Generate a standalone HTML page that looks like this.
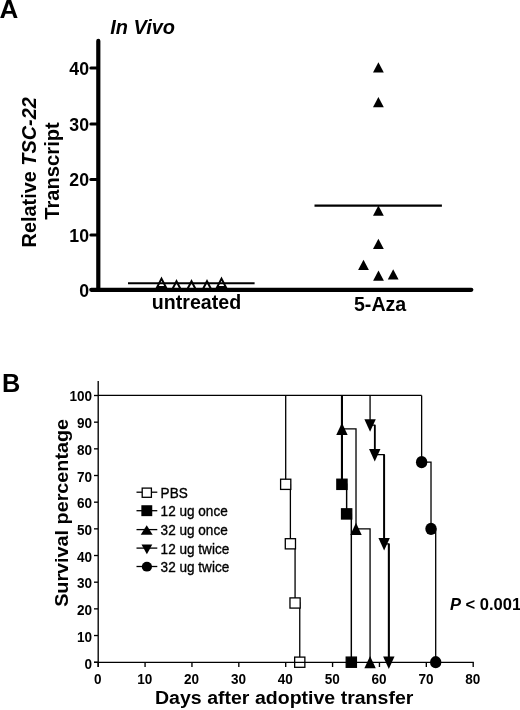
<!DOCTYPE html>
<html><head><meta charset="utf-8"><title>Figure</title>
<style>
html,body{margin:0;padding:0;background:#fff;}
svg{display:block;}
text{font-family:"Liberation Sans",sans-serif;fill:#000;}
.b{font-weight:bold;}
.i{font-style:italic;}
</style></head><body>
<svg width="520" height="710" viewBox="0 0 520 710">
<rect width="520" height="710" fill="#fff"/>

<text class="b" x="-0.5" y="18.3" font-size="26">A</text>
<text class="b i" transform="translate(110.3,33.9) scale(1.035,1)" font-size="19.3">In Vivo</text>
<line x1="90.9" y1="68" x2="97" y2="68" stroke="#000" stroke-width="3" stroke-linecap="round"/>
<text class="b" x="89" y="74.60" font-size="17.7" text-anchor="end">40</text>
<line x1="90.9" y1="123.9" x2="97" y2="123.9" stroke="#000" stroke-width="3" stroke-linecap="round"/>
<text class="b" x="89" y="130.50" font-size="17.7" text-anchor="end">30</text>
<line x1="90.9" y1="179.6" x2="97" y2="179.6" stroke="#000" stroke-width="3" stroke-linecap="round"/>
<text class="b" x="89" y="186.20" font-size="17.7" text-anchor="end">20</text>
<line x1="90.9" y1="235.1" x2="97" y2="235.1" stroke="#000" stroke-width="3" stroke-linecap="round"/>
<text class="b" x="89" y="241.70" font-size="17.7" text-anchor="end">10</text>
<text class="b" x="89" y="296.60" font-size="17.7" text-anchor="end">0</text>
<text class="b" font-size="19.9" text-anchor="middle" transform="translate(35.7,172.3) rotate(-90)">Relative <tspan class="i">TSC-22</tspan></text>
<text class="b" font-size="20.2" text-anchor="middle" transform="translate(58.7,171) rotate(-90)">Transcript</text>
<text class="b" font-size="19.6" text-anchor="middle" x="196.5" y="309.2">untreated</text>
<text class="b" font-size="19.6" text-anchor="middle" x="380.1" y="311.2">5-Aza</text>
<polygon points="161.5,276.40 167.40,288.00 155.60,288.00" fill="#000"/><polygon points="161.5,280.81 164.14,286.00 158.86,286.00" fill="#fff"/>
<polygon points="176.5,279.00 182.40,290.60 170.60,290.60" fill="#000"/><polygon points="176.5,283.41 179.14,288.60 173.86,288.60" fill="#fff"/>
<polygon points="191.5,279.00 197.40,290.60 185.60,290.60" fill="#000"/><polygon points="191.5,283.41 194.14,288.60 188.86,288.60" fill="#fff"/>
<polygon points="207,279.00 212.90,290.60 201.10,290.60" fill="#000"/><polygon points="207,283.41 209.64,288.60 204.36,288.60" fill="#fff"/>
<polygon points="221.5,276.40 227.40,288.00 215.60,288.00" fill="#000"/><polygon points="221.5,280.81 224.14,286.00 218.86,286.00" fill="#fff"/>
<line x1="128" y1="283.3" x2="254.6" y2="283.3" stroke="#000" stroke-width="2"/>
<line x1="314.5" y1="205.6" x2="441.9" y2="205.6" stroke="#000" stroke-width="2.2"/>
<polygon points="378.4,62.2 383.79999999999995,72.5 373.0,72.5" fill="#000"/>
<polygon points="378.4,97 383.79999999999995,107.3 373.0,107.3" fill="#000"/>
<polygon points="378.4,205.4 383.79999999999995,215.70000000000002 373.0,215.70000000000002" fill="#000"/>
<polygon points="378.4,238.7 383.79999999999995,249.0 373.0,249.0" fill="#000"/>
<polygon points="363.5,259.7 368.9,270.0 358.1,270.0" fill="#000"/>
<polygon points="378.5,270.4 383.9,280.7 373.1,280.7" fill="#000"/>
<polygon points="393.2,269.3 398.59999999999997,279.6 387.8,279.6" fill="#000"/>
<line x1="98.3" y1="40.9" x2="98.3" y2="289.85" stroke="#000" stroke-width="4.2" stroke-linecap="round"/>
<line x1="91.3" y1="289.85" x2="471.3" y2="289.85" stroke="#000" stroke-width="4.2" stroke-linecap="round"/>
<text class="b" x="2.1" y="391.5" font-size="25.3">B</text>
<line x1="94" y1="662.20" x2="98" y2="662.20" stroke="#000" stroke-width="1.35"/>
<text class="b" transform="translate(92,668.50) scale(0.88,1)" font-size="15.4" text-anchor="end">0</text>
<line x1="94" y1="635.53" x2="98" y2="635.53" stroke="#000" stroke-width="1.35"/>
<text class="b" transform="translate(92,641.83) scale(0.88,1)" font-size="15.4" text-anchor="end">10</text>
<line x1="94" y1="608.86" x2="98" y2="608.86" stroke="#000" stroke-width="1.35"/>
<text class="b" transform="translate(92,615.16) scale(0.88,1)" font-size="15.4" text-anchor="end">20</text>
<line x1="94" y1="582.19" x2="98" y2="582.19" stroke="#000" stroke-width="1.35"/>
<text class="b" transform="translate(92,588.49) scale(0.88,1)" font-size="15.4" text-anchor="end">30</text>
<line x1="94" y1="555.52" x2="98" y2="555.52" stroke="#000" stroke-width="1.35"/>
<text class="b" transform="translate(92,561.82) scale(0.88,1)" font-size="15.4" text-anchor="end">40</text>
<line x1="94" y1="528.85" x2="98" y2="528.85" stroke="#000" stroke-width="1.35"/>
<text class="b" transform="translate(92,535.15) scale(0.88,1)" font-size="15.4" text-anchor="end">50</text>
<line x1="94" y1="502.18" x2="98" y2="502.18" stroke="#000" stroke-width="1.35"/>
<text class="b" transform="translate(92,508.48) scale(0.88,1)" font-size="15.4" text-anchor="end">60</text>
<line x1="94" y1="475.51" x2="98" y2="475.51" stroke="#000" stroke-width="1.35"/>
<text class="b" transform="translate(92,481.81) scale(0.88,1)" font-size="15.4" text-anchor="end">70</text>
<line x1="94" y1="448.84" x2="98" y2="448.84" stroke="#000" stroke-width="1.35"/>
<text class="b" transform="translate(92,455.14) scale(0.88,1)" font-size="15.4" text-anchor="end">80</text>
<line x1="94" y1="422.17" x2="98" y2="422.17" stroke="#000" stroke-width="1.35"/>
<text class="b" transform="translate(92,428.47) scale(0.88,1)" font-size="15.4" text-anchor="end">90</text>
<line x1="94" y1="395.50" x2="98" y2="395.50" stroke="#000" stroke-width="1.35"/>
<text class="b" transform="translate(92,401.00) scale(0.88,1)" font-size="15.4" text-anchor="end">100</text>
<line x1="98.20" y1="662.3" x2="98.20" y2="667" stroke="#000" stroke-width="1.35"/>
<text class="b" transform="translate(97.80,683.5) scale(0.88,1)" font-size="15.4" text-anchor="middle">0</text>
<line x1="145.07" y1="662.3" x2="145.07" y2="667" stroke="#000" stroke-width="1.35"/>
<text class="b" transform="translate(144.67,683.5) scale(0.88,1)" font-size="15.4" text-anchor="middle">10</text>
<line x1="191.95" y1="662.3" x2="191.95" y2="667" stroke="#000" stroke-width="1.35"/>
<text class="b" transform="translate(191.55,683.5) scale(0.88,1)" font-size="15.4" text-anchor="middle">20</text>
<line x1="238.82" y1="662.3" x2="238.82" y2="667" stroke="#000" stroke-width="1.35"/>
<text class="b" transform="translate(238.42,683.5) scale(0.88,1)" font-size="15.4" text-anchor="middle">30</text>
<line x1="285.70" y1="662.3" x2="285.70" y2="667" stroke="#000" stroke-width="1.35"/>
<text class="b" transform="translate(285.30,683.5) scale(0.88,1)" font-size="15.4" text-anchor="middle">40</text>
<line x1="332.57" y1="662.3" x2="332.57" y2="667" stroke="#000" stroke-width="1.35"/>
<text class="b" transform="translate(332.18,683.5) scale(0.88,1)" font-size="15.4" text-anchor="middle">50</text>
<line x1="379.45" y1="662.3" x2="379.45" y2="667" stroke="#000" stroke-width="1.35"/>
<text class="b" transform="translate(379.05,683.5) scale(0.88,1)" font-size="15.4" text-anchor="middle">60</text>
<line x1="426.32" y1="662.3" x2="426.32" y2="667" stroke="#000" stroke-width="1.35"/>
<text class="b" transform="translate(425.93,683.5) scale(0.88,1)" font-size="15.4" text-anchor="middle">70</text>
<line x1="473.20" y1="662.3" x2="473.20" y2="667" stroke="#000" stroke-width="1.35"/>
<text class="b" transform="translate(472.80,683.5) scale(0.88,1)" font-size="15.4" text-anchor="middle">80</text>
<text class="b" font-size="18.4" text-anchor="middle" transform="translate(67.7,512.9) rotate(-90) scale(1.075,1)">Survival percentage</text>
<text class="b" font-size="18.5" text-anchor="middle" transform="translate(284.2,703.9) scale(1.057,1)">Days after adoptive transfer</text>
<text class="b" font-size="16" transform="translate(449.9,609.7) scale(1.035,1)"><tspan class="i">P</tspan> &lt; 0.001</text>
<path d="M98.00,395.30 L421.64,395.30" fill="none" stroke="#000" stroke-width="1.35"/>
<path d="M285.70,395.50 L285.70,484.31 L290.39,484.31 L290.39,543.79 L295.07,543.79 L295.07,602.99 L299.76,602.99 L299.76,662.20" fill="none" stroke="#000" stroke-width="1.3"/>
<rect x="280.60" y="479.21" width="10.2" height="10.2" fill="#fff" stroke="#000" stroke-width="1.3"/>
<rect x="285.29" y="538.69" width="10.2" height="10.2" fill="#fff" stroke="#000" stroke-width="1.3"/>
<rect x="289.97" y="597.89" width="10.2" height="10.2" fill="#fff" stroke="#000" stroke-width="1.3"/>
<rect x="294.66" y="657.10" width="10.2" height="10.2" fill="#fff" stroke="#000" stroke-width="1.3"/>
<path d="M341.95,395.50 L341.95,484.31 L346.64,484.31 L346.64,513.91 L351.32,513.91 L351.32,662.20" fill="none" stroke="#000" stroke-width="1.45"/>
<path d="M341.95,395.50 L341.95,484.31" fill="none" stroke="#000" stroke-width="2.1"/>
<rect x="336.85" y="479.21" width="10.2" height="10.2" fill="#000" stroke="#000" stroke-width="1.3"/>
<rect x="341.54" y="508.81" width="10.2" height="10.2" fill="#000" stroke="#000" stroke-width="1.3"/>
<rect x="346.22" y="657.10" width="10.2" height="10.2" fill="#000" stroke="#000" stroke-width="1.3"/>
<path d="M341.95,395.50 L341.95,428.84 L356.01,428.84 L356.01,528.85 L370.07,528.85 L370.07,662.20" fill="none" stroke="#000" stroke-width="1.3"/>
<polygon points="341.95,422.74 347.65,434.94 336.25,434.94" fill="#000"/>
<polygon points="356.01,522.75 361.71,534.95 350.31,534.95" fill="#000"/>
<polygon points="370.07,656.10 375.77,668.30 364.38,668.30" fill="#000"/>
<path d="M370.07,395.50 L370.07,425.10 L374.76,425.10 L374.76,454.71 L384.14,454.71 L384.14,543.79 L388.82,543.79 L388.82,662.20" fill="none" stroke="#000" stroke-width="1.3"/>
<path d="M388.82,543.79 L388.82,662.20" fill="none" stroke="#000" stroke-width="2.0"/>
<path d="M374.76,425.10 L374.76,454.71" fill="none" stroke="#000" stroke-width="1.7"/>
<path d="M384.14,454.71 L384.14,543.79" fill="none" stroke="#000" stroke-width="1.9"/>
<polygon points="370.07,431.80 375.77,419.30 364.38,419.30" fill="#000"/>
<polygon points="374.76,461.41 380.46,448.91 369.06,448.91" fill="#000"/>
<polygon points="384.14,550.49 389.84,537.99 378.44,537.99" fill="#000"/>
<polygon points="388.82,668.90 394.52,656.40 383.12,656.40" fill="#000"/>
<path d="M421.64,395.50 L421.64,462.18 L431.01,462.18 L431.01,528.85 L435.70,528.85 L435.70,662.20" fill="none" stroke="#000" stroke-width="1.3"/>
<ellipse cx="421.64" cy="462.18" rx="5.7" ry="6.1" fill="#000"/>
<ellipse cx="431.01" cy="528.85" rx="5.7" ry="6.1" fill="#000"/>
<ellipse cx="435.70" cy="662.20" rx="5.7" ry="6.1" fill="#000"/>
<line x1="98.2" y1="381" x2="98.2" y2="667" stroke="#000" stroke-width="1.35"/>
<line x1="94" y1="662.3" x2="473.8" y2="662.3" stroke="#000" stroke-width="1.35"/>
<line x1="136.5" y1="492.2" x2="157.3" y2="492.2" stroke="#000" stroke-width="1.3"/>
<rect x="142.20" y="488.10" width="9.2" height="9.2" fill="#fff" stroke="#000" stroke-width="1.3"/>
<text transform="translate(160.6,497.90) scale(0.905,1)" font-size="15" stroke="#000" stroke-width="0.35">PBS</text>
<line x1="136.5" y1="510.7" x2="157.3" y2="510.7" stroke="#000" stroke-width="1.3"/>
<rect x="142.00" y="505.90" width="9.6" height="9.6" fill="#000" stroke="#000" stroke-width="1.3"/>
<text transform="translate(160.6,516.40) scale(0.905,1)" font-size="15" stroke="#000" stroke-width="0.35">12 ug once</text>
<line x1="136.5" y1="529.6" x2="157.3" y2="529.6" stroke="#000" stroke-width="1.3"/>
<polygon points="146.7,525.30 152.7,534.70 140.7,534.70" fill="#000"/>
<text transform="translate(160.6,535.30) scale(0.905,1)" font-size="15" stroke="#000" stroke-width="0.35">32 ug once</text>
<line x1="136.5" y1="548.1" x2="157.3" y2="548.1" stroke="#000" stroke-width="1.3"/>
<polygon points="146.9,554.30 152.3,544.50 141.5,544.50" fill="#000"/>
<text transform="translate(160.6,553.80) scale(0.905,1)" font-size="15" stroke="#000" stroke-width="0.35">12 ug twice</text>
<line x1="136.5" y1="566.5" x2="157.3" y2="566.5" stroke="#000" stroke-width="1.3"/>
<ellipse cx="146.9" cy="566.70" rx="5.1" ry="4.9" fill="#000"/>
<text transform="translate(160.6,572.20) scale(0.905,1)" font-size="15" stroke="#000" stroke-width="0.35">32 ug twice</text>
</svg></body></html>
